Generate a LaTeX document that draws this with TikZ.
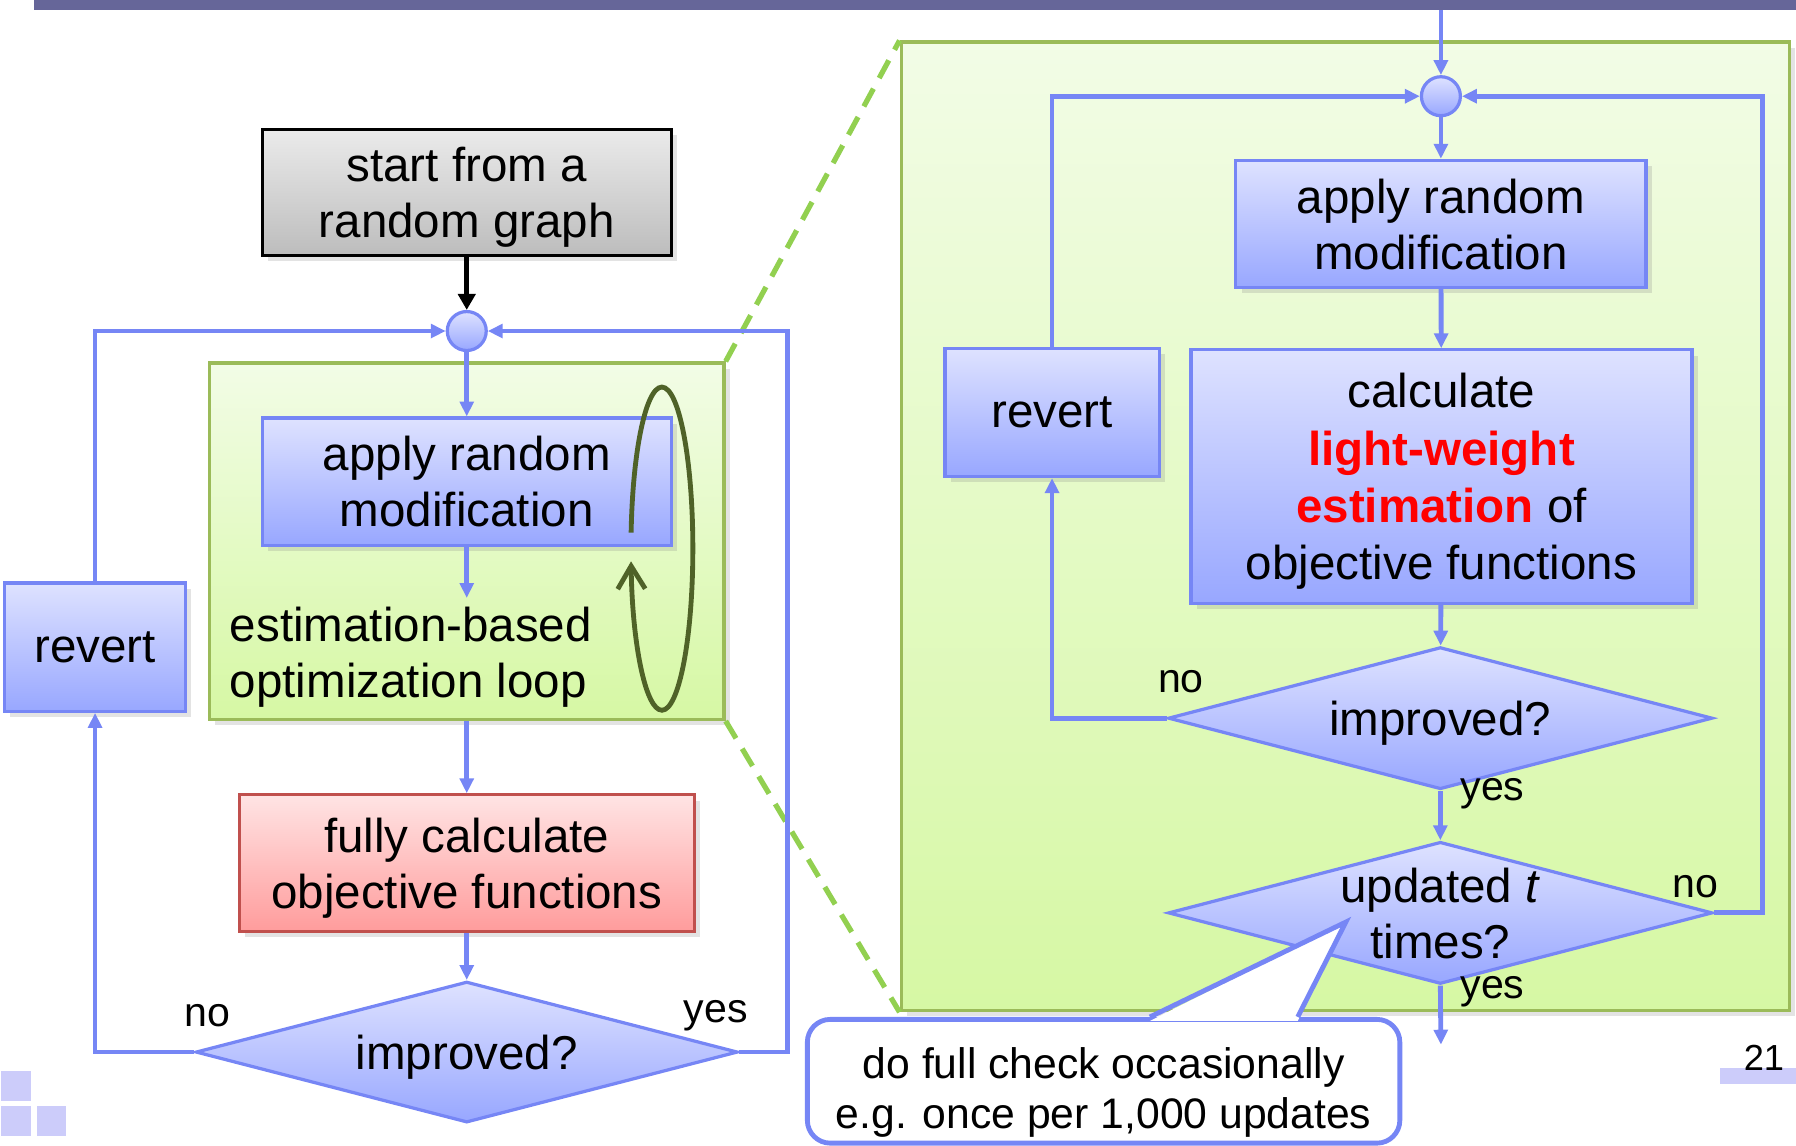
\documentclass[tikz,border=0pt]{standalone}
\usepackage{fontspec}
\setmainfont{Liberation Sans}
\usetikzlibrary{shapes.geometric,arrows.meta,shadows}

\definecolor{flowblue}{RGB}{118,134,245}
\definecolor{boxtop}{RGB}{222,226,255}
\definecolor{boxbot}{RGB}{152,167,255}
\definecolor{looptop}{RGB}{242,252,230}
\definecolor{loopbot}{RGB}{214,248,164}
\definecolor{loopedge}{RGB}{155,187,89}
\definecolor{zoomgreen}{RGB}{146,208,80}
\definecolor{fulltop}{RGB}{255,228,228}
\definecolor{fullbot}{RGB}{255,156,156}
\definecolor{fulledge}{RGB}{192,80,77}
\definecolor{cycleolive}{RGB}{79,98,40}
\definecolor{slidebar}{RGB}{102,102,153}
\definecolor{slidelav}{RGB}{204,204,250}

\begin{document}
\begin{tikzpicture}[x=0.01cm,y=-0.01cm,
  font=\fontsize{11.8}{13.9}\selectfont,
  boxshadow/.style={drop shadow={opacity=0.22,shadow xshift=0.05cm,shadow yshift=-0.05cm}},
  stepbox/.style={draw=flowblue,line width=0.8pt,top color=boxtop,bottom color=boxbot,
    align=center,inner sep=0pt,text depth=0pt,boxshadow},
  startbox/.style={draw=black,line width=0.8pt,top color=black!8,bottom color=black!26,
    align=center,inner sep=0pt,text depth=0pt,boxshadow},
  fullbox/.style={draw=fulledge,line width=0.8pt,top color=fulltop,bottom color=fullbot,
    align=center,inner sep=0pt,text depth=0pt,boxshadow},
  loopbox/.style={draw=loopedge,line width=0.8pt,top color=looptop,bottom color=loopbot,
    inner sep=0pt,boxshadow},
  decision/.style={diamond,aspect=3.83,draw=flowblue,line width=0.8pt,top color=boxtop,
    bottom color=boxbot,align=center,inner xsep=0pt,inner ysep=-4pt,text depth=0pt},
  junction/.style={circle,draw=flowblue,line width=0.8pt,top color=boxtop,bottom color=boxbot,
    minimum size=0.34cm,inner sep=0pt},
  flow/.style={draw=flowblue,line width=1.2pt,-{Triangle[length=1.3mm,width=1.2mm]}},
  zoomline/.style={draw=zoomgreen,line width=1.3pt,dash pattern=on 5pt off 3pt},
  answer/.style={font=\fontsize{10.2}{12}\selectfont,inner sep=0pt},
  notebox/.style={draw=flowblue,line width=1.2pt,fill=white,rounded corners=0.2cm,
    align=center,inner sep=0pt,text height=23.6pt,text depth=0pt,
    font=\fontsize{10.6}{12.6}\selectfont}]
\useasboundingbox (0,0) rectangle (1568,1000);

% slide decoration
\fill[slidebar] (30,0) rectangle (1568,9);
\fill[slidelav] (1,935) rectangle (27,961);
\fill[slidelav] (1,966) rectangle (27,992);
\fill[slidelav] (32,966) rectangle (58,992);
\fill[slidelav] (1502,932) rectangle (1568,946);
\node[font=\fontsize{9}{10}\selectfont,anchor=base,inner sep=0pt] (pagenum) at (1540,935) {21};

% containers
\node[loopbox,minimum width=4.49cm,minimum height=3.11cm] (lloop) at (407.5,472.5) {};
\node[loopbox,minimum width=7.75cm,minimum height=8.45cm] (rloop) at (1174.5,459.5) {};
\draw[zoomline] (lloop.north east) -- (rloop.north west);
\draw[zoomline] (lloop.south east) -- (rloop.south west);

% left: whole search
\node[startbox,minimum width=3.57cm,minimum height=1.1cm] (lstart) at (407.5,168) {start from a\\random graph};
\node[junction] (lj) at (407.5,289) {};
\node[stepbox,minimum width=3.57cm,minimum height=1.11cm] (lapply) at (407.5,420.5) {apply random\\modification};
\node[anchor=west,align=left,inner sep=0pt] (lest) at (200,574) {estimation-based\\optimization loop};
\coordinate (lestin) at (407.5,522);
\node[fullbox,minimum width=3.97cm,minimum height=1.19cm] (lfull) at (407.5,753.5) {fully calculate\\objective functions};
\node[decision,minimum width=4.73cm,minimum height=1.23cm] (ldec) at (407.5,918.5) {improved?};
\node[stepbox,minimum width=1.58cm,minimum height=1.12cm] (lrevert) at (83,565) {revert};

\draw[black,line width=1.2pt,-{Triangle[length=1.4mm,width=1.5mm]}] (lstart) -- (lj);
\draw[flow] (lj) -- (lapply);
\draw[flow] (lapply) -- (lestin);
\draw[flow] (lloop) -- (lfull);
\draw[flow] (lfull) -- (ldec);
\draw[flow] (ldec.west) -| (lrevert.south);
\draw[flow] (lrevert.north) |- (lj.west);
\draw[flow] (ldec.east) -- ++(42,0) |- (lj.east);
\node[answer] (lno) at (181,887) {no};
\node[answer] (lyes) at (625,887) {yes};
\draw[cycleolive,line width=1.2pt,-{Straight Barb[length=2mm,width=2.4mm]}]
  (551,465) arc[start angle=174.3,end angle=-175.5,x radius=0.27cm,y radius=1.41cm];

% right: estimation-based loop
\coordinate (rin) at (1258,9);
\node[junction] (rj) at (1258,84) {};
\node[stepbox,minimum width=3.58cm,minimum height=1.11cm] (rapply) at (1258,195.5) {apply random\\modification};
\node[stepbox,minimum width=4.37cm,minimum height=2.21cm,font=\fontsize{11.8}{14.2}\selectfont] (rcalc) at (1258.5,416)
  {calculate\\\textcolor{red}{\textbf{light-weight}}\\\textcolor{red}{\textbf{estimation}} of\\objective functions};
\node[stepbox,minimum width=1.87cm,minimum height=1.12cm] (rrevert) at (918.5,360) {revert};
\node[decision,minimum width=4.75cm,minimum height=1.24cm] (rdec) at (1257.5,627) {improved?};
\node[decision,minimum width=4.75cm,minimum height=1.24cm] (rcount) at (1257.5,797) {updated \textit{t}\\times?};
\coordinate (rout) at (1258,912);

\draw[flow] (rin) -- (rj);
\draw[flow] (rj) -- (rapply);
\draw[flow] (rapply) -- (rcalc);
\draw[flow] (rcalc) -- (rdec);
\draw[flow] (rdec.west) -| (rrevert.south);
\draw[flow] (rrevert.north) |- (rj.west);
\draw[flow] (rdec) -- (rcount);
\draw[flow] (rcount.east) -- ++(42,0) |- (rj.east);
\draw[flow] (rcount.south) -- (rout);
\node[answer] (rno) at (1031,595) {no};
\node[answer] (ryes) at (1303,693) {yes};
\node[answer] (rno2) at (1480,774) {no};
\node[answer] (ryes2) at (1303,866) {yes};

% note
\node[notebox,minimum width=5.17cm,minimum height=1.08cm] (note) at (963.5,944)
  {do full check occasionally\\e.g. once per 1,000 updates};
\coordinate (notetip) at (1175,805);
\coordinate (nbase1) at ([xshift=3.01cm]note.north west);
\coordinate (nbase2) at ([xshift=4.3cm]note.north west);
\fill[white] ([yshift=-1pt]nbase1) -- (notetip) -- ([yshift=-1pt]nbase2) -- cycle;
\draw[flowblue,line width=1.2pt] (nbase1) -- (notetip) -- (nbase2);
\end{tikzpicture}
\end{document}
